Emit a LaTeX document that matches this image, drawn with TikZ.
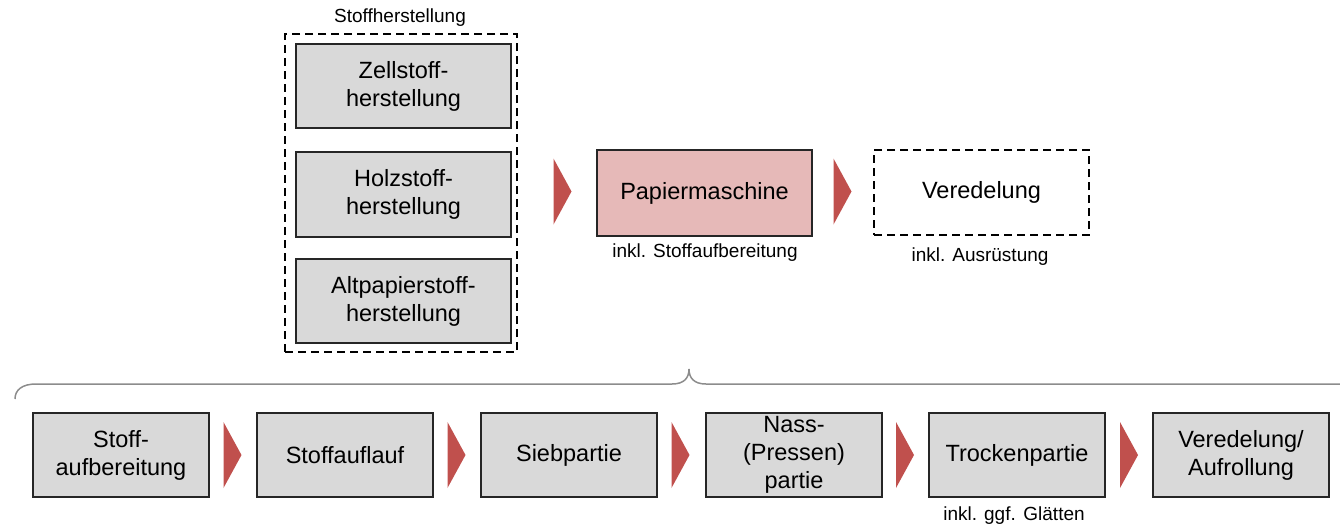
\documentclass[tikz,border=0pt]{standalone}
\usepackage{fontspec}
\setmainfont{Liberation Sans}
\usetikzlibrary{calc}
\definecolor{boxgray}{HTML}{D9D9D9}
\definecolor{boxline}{HTML}{262626}
\definecolor{pinkfill}{HTML}{E6B9B8}
\definecolor{chevron}{HTML}{C0504D}
\definecolor{bracegray}{HTML}{8C8C8C}
\tikzset{
  bigtext/.style={font=\fontsize{23.5pt}{28pt}\selectfont, align=center},
  smalltext/.style={font=\fontsize{19pt}{23pt}\selectfont, inner sep=0pt},
  graybox/.style={bigtext, draw=boxline, line width=1.5pt, fill=boxgray, inner sep=0pt},
  pinkbox/.style={bigtext, draw=boxline, line width=1.5pt, fill=pinkfill, inner sep=0pt},
  dashbox/.style={draw=black, line width=1.4pt, dash pattern=on 8pt off 5pt, inner sep=0pt},
  chev/.style={fill=chevron, draw=none},
  bracelinestyle/.style={draw=bracegray, line width=1.5pt}
}
\newcommand{\chevronat}[1]{\fill[chev] ($(#1)+(-9pt,-33pt)$) -- ($(#1)+(9pt,0pt)$) -- ($(#1)+(-9pt,33pt)$) -- cycle;}
\begin{document}
\begin{tikzpicture}[x=1pt,y=-1pt]
\useasboundingbox (0,0) rectangle (1340,528);

% Stoffherstellung group
\node[dashbox, minimum width=232pt, minimum height=318pt] (grp) at (401,193) {};
\node[smalltext] (grplabel) at (400,18) {Stoffherstellung};
\node[graybox, minimum width=215pt, minimum height=84pt] (zell) at (403.5,86) {Zellstoff-\\herstellung};
\node[graybox, minimum width=215pt, minimum height=85pt] (holz) at (403.5,194.5) {Holzstoff-\\herstellung};
\node[graybox, minimum width=215pt, minimum height=84pt] (alt) at (403.5,301) {Altpapierstoff-\\herstellung};

% top row
\node[pinkbox, minimum width=215pt, minimum height=86pt] (pm) at (704.5,193) {Papiermaschine};
\node[smalltext] (pmlabel) at (705,253) {inkl. Stoffaufbereitung};
\node[dashbox, bigtext, minimum width=215pt, minimum height=85pt] (ver) at (981.5,192.5) {Veredelung};
\node[smalltext] (verlabel) at (980,257) {inkl. Ausrüstung};

\coordinate (c1) at (562.5,191.5);
\coordinate (c2) at (842.5,191.5);
\chevronat{c1}
\chevronat{c2}

% brace
\coordinate (bl) at (15,399);
\coordinate (btip) at (689,369);
\coordinate (br) at (1363,399);
\draw[bracelinestyle] (bl) .. controls (15,390) and (22,384) .. (36,384) -- (672,384)
  .. controls (684,384) and (689,378) .. (btip)
  .. controls (689,378) and (694,384) .. (706,384) -- (1342,384)
  .. controls (1356,384) and (1363,390) .. (br);

% bottom row
\node[graybox, minimum width=176pt, minimum height=84pt] (b1) at (121,455) {Stoff-\\aufbereitung};
\node[graybox, minimum width=176pt, minimum height=84pt] (b2) at (345,455) {Stoffauflauf};
\node[graybox, minimum width=176pt, minimum height=84pt] (b3) at (569,455) {Siebpartie};
\node[graybox, minimum width=176pt, minimum height=84pt] (b4) at (794,455) {Nass-\\(Pressen)\\partie};
\node[graybox, minimum width=176pt, minimum height=84pt] (b5) at (1017,455) {Trockenpartie};
\node[graybox, minimum width=176pt, minimum height=84pt] (b6) at (1241,455) {Veredelung/\\Aufrollung};
\node[smalltext] (b5label) at (1014,516) {inkl. ggf.\hspace{0.4em}Glätten};

\coordinate (a1) at (232.5,455);
\coordinate (a2) at (456.5,455);
\coordinate (a3) at (680.5,455);
\coordinate (a4) at (905,455);
\coordinate (a5) at (1129,455);
\chevronat{a1}
\chevronat{a2}
\chevronat{a3}
\chevronat{a4}
\chevronat{a5}
\end{tikzpicture}
\end{document}
